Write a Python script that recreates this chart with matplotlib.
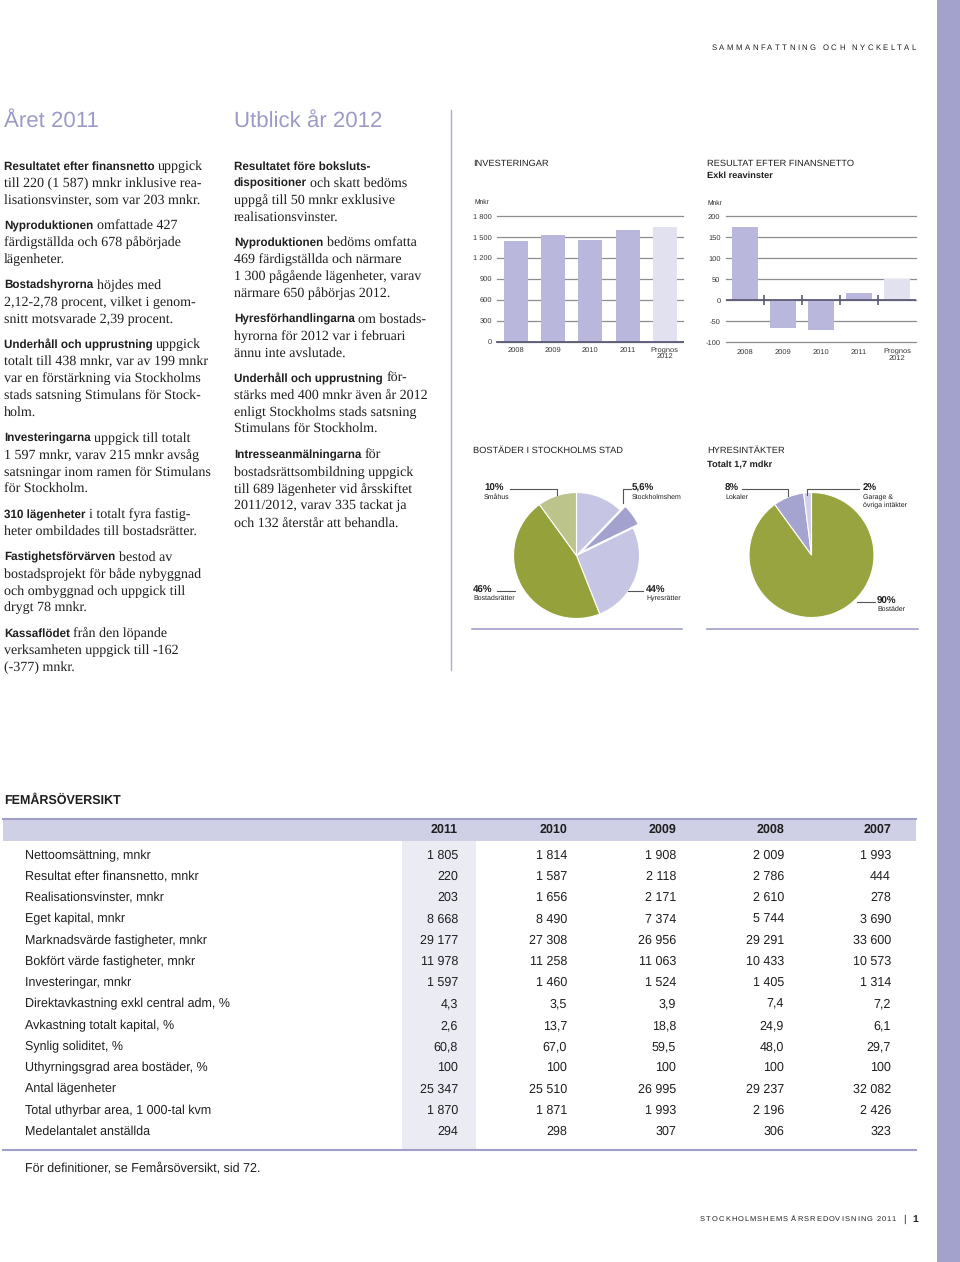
import numpy as np
import matplotlib
matplotlib.use('Agg')
import matplotlib.pyplot as plt
from matplotlib.lines import Line2D
from matplotlib.patches import Rectangle

plt.rcParams['text.hinting'] = 'no_hinting'

# ---- data -------------------------------------------------------------
inv_years = ['2008', '2009', '2010', '2011', 'Prognos\n2012']
inv_values = [1440, 1524, 1460, 1597, 1640]

res_years = ['2008', '2009', '2010', '2011', 'Prognos\n2012']
res_values = [175, -67, -71, 16, 50]

# Bostäder i Stockholms stad (clockwise from 12 o'clock)
bost_names = ['Hyresrätter', 'Stockholmshem', 'Hyresrätter', 'Bostadsrätter', 'Småhus']
bost_values = [12.2, 5.6, 26.2, 46, 10]

# Hyresintäkter (clockwise from 12 o'clock)
hyr_names = ['Bostäder', 'Lokaler', 'Garage & övriga intäkter']
hyr_values = [90, 8, 2]

table_years = ['2011', '2010', '2009', '2008', '2007']
table_labels = [
    'Nettoomsättning, mnkr',
    'Resultat efter finansnetto, mnkr',
    'Realisationsvinster, mnkr',
    'Eget kapital, mnkr',
    'Marknadsvärde fastigheter, mnkr',
    'Bokfört värde fastigheter, mnkr',
    'Investeringar, mnkr',
    'Direktavkastning exkl central adm, %',
    'Avkastning totalt kapital, %',
    'Synlig soliditet, %',
    'Uthyrningsgrad area bostäder, %',
    'Antal lägenheter',
    'Total uthyrbar area, 1 000-tal kvm',
    'Medelantalet anställda',
]
table_values = [
    ['1 805', '1 814', '1 908', '2 009', '1 993'],
    ['220', '1 587', '2 118', '2 786', '444'],
    ['203', '1 656', '2 171', '2 610', '278'],
    ['8 668', '8 490', '7 374', '5 744', '3 690'],
    ['29 177', '27 308', '26 956', '29 291', '33 600'],
    ['11 978', '11 258', '11 063', '10 433', '10 573'],
    ['1 597', '1 460', '1 524', '1 405', '1 314'],
    ['4,3', '3,5', '3,9', '7,4', '7,2'],
    ['2,6', '13,7', '18,8', '24,9', '6,1'],
    ['60,8', '67,0', '59,5', '48,0', '29,7'],
    ['100', '100', '100', '100', '100'],
    ['25 347', '25 510', '26 995', '29 237', '32 082'],
    ['1 870', '1 871', '1 993', '2 196', '2 426'],
    ['294', '298', '307', '306', '323'],
]

# body text, bold lead words between *...*
left_col = [
    ['*Resultatet efter finansnetto* uppgick',
     'till 220 (1 587) mnkr inklusive rea-',
     'lisationsvinster, som var 203 mnkr.'],
    ['*Nyproduktionen* omfattade 427',
     'färdigställda och 678 påbörjade',
     'lägenheter.'],
    ['*Bostadshyrorna* höjdes med',
     '2,12-2,78 procent, vilket i genom-',
     'snitt motsvarade 2,39 procent.'],
    ['*Underhåll och upprustning* uppgick',
     'totalt till 438 mnkr, var av 199 mnkr',
     'var en förstärkning via Stockholms',
     'stads satsning Stimulans för Stock-',
     'holm.'],
    ['*Investeringarna* uppgick till totalt',
     '1 597 mnkr, varav 215 mnkr avsåg',
     'satsningar inom ramen för Stimulans',
     'för Stockholm.'],
    ['*310 lägenheter* i totalt fyra fastig-',
     'heter ombildades till bostadsrätter.'],
    ['*Fastighetsförvärven* bestod av',
     'bostadsprojekt för både nybyggnad',
     'och ombyggnad och uppgick till',
     'drygt 78 mnkr.'],
    ['*Kassaflödet* från den löpande',
     'verksamheten uppgick till -162',
     '(-377) mnkr.'],
]
mid_col = [
    ['*Resultatet före boksluts-*',
     '*dispositioner* och skatt bedöms',
     'uppgå till 50 mnkr exklusive',
     'realisationsvinster.'],
    ['*Nyproduktionen* bedöms omfatta',
     '469 färdigställda och närmare',
     '1 300 pågående lägenheter, varav',
     'närmare 650 påbörjas 2012.'],
    ['*Hyresförhandlingarna* om bostads-',
     'hyrorna för 2012 var i februari',
     'ännu inte avslutade.'],
    ['*Underhåll och upprustning* för-',
     'stärks med 400 mnkr även år 2012',
     'enligt Stockholms stads satsning',
     'Stimulans för Stockholm.'],
    ['*Intresseanmälningarna* för',
     'bostadsrättsombildning uppgick',
     'till 689 lägenheter vid årsskiftet',
     '2011/2012, varav 335 tackat ja',
     'och 132 återstår att behandla.'],
]

# ---- styling ----------------------------------------------------------
W, H = 960, 1262
SANS = 'Liberation Sans'
SERIF = 'Liberation Serif'
INK = '#1f1f1f'
LAV = '#9c9bc8'
RULE = '#a09fc9'
BAR = '#b9b8dc'
BAR_P = '#e2e1f0'
GRID = '#8e8e8e'
ZERO = '#5c5a78'

fig = plt.figure(figsize=(W / 100, H / 100), dpi=100)
fig.patch.set_facecolor('white')
renderer = fig.canvas.get_renderer()


def put(x, y, s, **kw):
    kw.setdefault('color', INK)
    kw.setdefault('fontfamily', SANS)
    return fig.text(x / W, 1 - y / H, s, **kw)


def box(x, y, w, h):
    return [x / W, 1 - (y + h) / H, w / W, h / H]


def hline(x0, x1, y, **kw):
    fig.add_artist(Line2D([x0 / W, x1 / W], [1 - y / H, 1 - y / H],
                          transform=fig.transFigure, **kw))


def path(xs, ys, **kw):
    fig.add_artist(Line2D([v / W for v in xs], [1 - v / H for v in ys],
                          transform=fig.transFigure, **kw))


def spaced(x_right, y, s, size, extra, weight='normal'):
    # letter-spaced caps, right aligned
    widths = []
    for ch in s:
        t = put(0, 0, ch, fontsize=size, fontweight=weight)
        widths.append(t.get_window_extent(renderer).width)
        t.remove()
    total = sum(widths) + extra * (len(s) - 1)
    cx = x_right - total
    for ch, w in zip(s, widths):
        put(cx, y, ch, fontsize=size, fontweight=weight, va='center')
        cx += w + extra
    return x_right - total


def text_block(x, y, paras, line_h=16.95, gap=8.6):
    for para in paras:
        for line in para:
            cx = x
            for i, part in enumerate(line.split('*')):
                if not part:
                    continue
                bold = i % 2 == 1
                if part.startswith(' '):
                    cx += 3.4
                    part = part.lstrip()
                if bold:
                    t = put(cx, y + 4, part, fontsize=8.4, fontweight='bold', va='baseline')
                else:
                    t = put(cx, y + 4, part, fontfamily=SERIF, fontsize=10.1, va='baseline')
                cx += t.get_window_extent(renderer).width
            y += line_h
        y += gap


def style_bar_axes(ax):
    ax.grid(axis='y', color=GRID, lw=0.9, zorder=0)
    ax.set_axisbelow(True)
    for gl in ax.get_ygridlines():
        gl.set_clip_on(False)
    for s in ax.spines.values():
        s.set_visible(False)
    ax.tick_params(length=0, labelsize=5.4, colors='#333333')
    for lab in ax.get_xticklabels():
        lab.set_linespacing(0.85)
        lab.set_fontfamily(SANS)
    for lab in ax.get_yticklabels():
        lab.set_fontfamily(SANS)


# ---- page furniture ---------------------------------------------------
fig.add_artist(Rectangle((937 / W, 0), 23 / W, 1, transform=fig.transFigure,
                         color='#a3a2cc', lw=0))
spaced(916, 48, 'SAMMANFATTNING OCH NYCKELTAL', 5.6, 2.4)

put(4, 121, 'Året 2011', fontsize=16, color=LAV, va='center')
put(234, 121, 'Utblick år 2012', fontsize=16, color=LAV, va='center')
path([451, 451], [110, 670], color='#aeadcc', lw=1.0)

text_block(4, 166, left_col)
text_block(234, 166, mid_col)

# ---- bar chart: Investeringar -----------------------------------------
put(473, 164, 'INVESTERINGAR', fontsize=6.7, va='center')
put(474, 202, 'Mnkr', fontsize=4.8, va='center')
ax1 = fig.add_axes(box(497.4, 216, 186, 125.5))
x = np.arange(len(inv_years))
ax1.bar(x, inv_values, width=0.65, zorder=2,
        color=[BAR] * (len(x) - 1) + [BAR_P])
ax1.set_xlim(-0.5, len(x) - 0.5)
ax1.set_ylim(0, 1800)
yt = np.arange(0, 1801, 300)
ax1.set_yticks(yt, [f'{v:,}'.replace(',', ' ') for v in yt])
ax1.set_xticks(x, inv_years)
style_bar_axes(ax1)
ax1.tick_params(axis='y', pad=4)
ax1.tick_params(axis='x', pad=4)
ax1.axhline(0, color=ZERO, lw=1.3, zorder=3, clip_on=False)

# ---- bar chart: Resultat efter finansnetto -----------------------------
put(707, 164, 'RESULTAT EFTER FINANSNETTO', fontsize=6.7, va='center')
put(707, 176, 'Exkl reavinster', fontsize=6.7, fontweight='bold', va='center')
put(707, 203, 'Mnkr', fontsize=4.8, va='center')
ax2 = fig.add_axes(box(726, 216, 190, 126))
x = np.arange(len(res_years))
ax2.bar(x, res_values, width=0.66, zorder=2,
        color=[BAR] * (len(x) - 1) + [BAR_P])
ax2.set_xlim(-0.5, len(x) - 0.5)
ax2.set_ylim(-100, 200)
yt = np.arange(-100, 201, 50)
ax2.set_yticks(yt, [str(v) for v in yt])
ax2.set_xticks(x, res_years)
style_bar_axes(ax2)
ax2.tick_params(axis='y', pad=4)
ax2.tick_params(axis='x', pad=5)
ax2.axhline(0, color=ZERO, lw=1.3, zorder=3)
ax2.plot(x[:-1] + 0.5, np.zeros(len(x) - 1), ls='none', marker='|',
         ms=7, mew=1.2, color=ZERO, zorder=3)

# ---- pie: Bostäder i Stockholms stad ----------------------------------
put(473, 451, 'BOSTÄDER I STOCKHOLMS STAD', fontsize=6.7, va='center')
axp1 = fig.add_axes(box(513.5, 492.5, 126, 126))
axp1.pie(bost_values, colors=['#c6c5e3', '#a3a2cf', '#c6c5e3', '#95a23c', '#bdc48b'],
         startangle=90, counterclock=False, explode=[0, 0.1, 0, 0, 0],
         wedgeprops=dict(edgecolor='white', linewidth=0.8, clip_on=False))
axp1.set_xlim(-1, 1)
axp1.set_ylim(-1, 1)

LEAD = dict(color='#555555', lw=0.8)
path([510, 556.7, 556.7], [489, 489, 495], **LEAD)
path([630.7, 623.3, 623.3], [489, 489, 503], **LEAD)
path([496.7, 515], [590.7, 590.7], **LEAD)
path([628.3, 643.3], [590.7, 590.7], **LEAD)
put(484, 488, '10%', fontsize=7, fontweight='bold', va='center')
put(484, 497, 'Småhus', fontsize=5, va='center')
put(632, 488, '5,6%', fontsize=7, fontweight='bold', va='center')
put(632, 497, 'Stockholmshem', fontsize=5, va='center')
put(473, 590, '46%', fontsize=7, fontweight='bold', va='center')
put(473, 598.5, 'Bostadsrätter', fontsize=5, va='center')
put(646, 590, '44%', fontsize=7, fontweight='bold', va='center')
put(646, 598.5, 'Hyresrätter', fontsize=5, va='center')
hline(472, 682, 629.3, color=RULE, lw=1.2)

# ---- pie: Hyresintäkter -----------------------------------------------
put(707, 451, 'HYRESINTÄKTER', fontsize=6.7, va='center')
put(707, 464, 'Totalt 1,7 mdkr', fontsize=6.7, fontweight='bold', va='center')
axp2 = fig.add_axes(box(749, 492.5, 125, 125))
axp2.pie(hyr_values, colors=['#97a43f', '#a5a4d0', '#d2d1ea'],
         startangle=90, counterclock=False,
         wedgeprops=dict(edgecolor='white', linewidth=0.8, clip_on=False))
axp2.set_xlim(-1, 1)
axp2.set_ylim(-1, 1)
path([741.7, 788.3, 788.3], [489, 489, 496], **LEAD)
path([859.3, 807.3, 807.3], [489, 489, 495], **LEAD)
path([856.7, 875], [602.3, 602.3], **LEAD)
put(725, 488, '8%', fontsize=7, fontweight='bold', va='center')
put(725, 497, 'Lokaler', fontsize=5, va='center')
put(863, 488, '2%', fontsize=7, fontweight='bold', va='center')
put(863, 497.5, 'Garage &', fontsize=5, va='center')
put(863, 505, 'övriga intäkter', fontsize=5, va='center')
put(877, 601, '90%', fontsize=7, fontweight='bold', va='center')
put(877, 609.5, 'Bostäder', fontsize=5, va='center')
hline(707, 918, 629.3, color=RULE, lw=1.2)

# ---- table: Femårsöversikt --------------------------------------------
put(4, 801, 'FEMÅRSÖVERSIKT', fontsize=9, fontweight='bold', va='center')
fig.add_artist(Rectangle((3 / W, 1 - 840.5 / H), 913 / W, 22 / H,
                         transform=fig.transFigure, color='#cfcfe6', lw=0))
hline(3, 916, 818.5, color=RULE, lw=1.5)
n_rows = len(table_labels)
row_y = 855.5 + 21.25 * np.arange(n_rows)
fig.add_artist(Rectangle((402 / W, 1 - 1149 / H), 74 / W, 308.5 / H,
                         transform=fig.transFigure, color='#ebebf4', lw=0))
col_right = [458, 567, 676, 784, 891]
for yr, cx in zip(table_years, col_right):
    put(cx, 829.5, yr, fontsize=9, fontweight='bold', ha='right', va='center')
for label, vals, ry in zip(table_labels, table_values, row_y):
    put(25, ry, label, fontsize=9, va='center')
    for v, cx in zip(vals, col_right):
        put(cx, ry, v, fontsize=9, ha='right', va='center')
hline(3, 916, 1150, color=RULE, lw=1.5)
put(25, 1169, 'För definitioner, se Femårsöversikt, sid 72.', fontsize=9, va='center')

# ---- footer -----------------------------------------------------------
put(912, 1219, '1', fontsize=7.5, fontweight='bold', va='center')
put(903, 1219, '|', fontsize=7, va='center')
spaced(896, 1219.5, 'STOCKHOLMSHEMS ÅRSREDOVISNING 2011', 5.4, 1.0)

fig.savefig('out.png', dpi=100, facecolor='white')
